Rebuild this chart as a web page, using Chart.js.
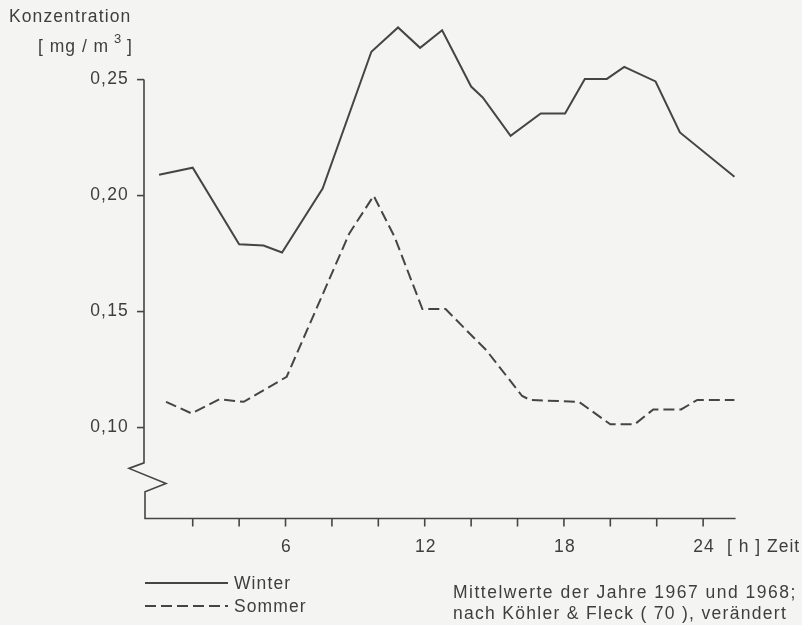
<!DOCTYPE html>
<html>
<head>
<meta charset="utf-8">
<script src="https://cdn.jsdelivr.net/npm/chart.js@4.4.1/dist/chart.umd.min.js"></script>
<style>
  html, body { margin: 0; background: #f4f4f2; }
  canvas { display: block; }
</style>
</head>
<body>
<canvas id="chart" width="802" height="625"></canvas>
<script>
// Tagesgang der Konzentration, Winter / Sommer (Stunde, mg/m³)
const winterHours  = [0.55, 2.0, 4.0, 5.05, 5.85, 7.6, 9.7, 10.85, 11.8, 12.75, 14.0, 14.5, 15.7, 17.0, 18.05, 18.9, 19.85, 20.6, 21.95, 23.0, 25.35];
const winterValues = [0.209, 0.212, 0.179, 0.1785, 0.1755, 0.203, 0.262, 0.2725, 0.2637, 0.2713, 0.247, 0.2423, 0.2258, 0.2354, 0.2354, 0.2503, 0.2503, 0.2555, 0.2492, 0.2272, 0.2081];

const summerHours  = [0.85, 1.95, 3.15, 4.2, 6.05, 8.75, 9.8, 10.7, 11.9, 12.9, 14.0, 14.65, 16.2, 16.55, 18.65, 20.0, 21.05, 21.85, 23.05, 23.75, 25.35];
const summerValues = [0.1111, 0.1061, 0.1122, 0.1111, 0.1219, 0.1837, 0.1999, 0.1822, 0.1511, 0.1511, 0.1399, 0.1334, 0.1136, 0.1119, 0.1111, 0.1014, 0.1014, 0.1078, 0.1078, 0.1119, 0.1119];

const yTickValues = [0.10, 0.15, 0.20, 0.25];
const yTickLabels = ['0,10', '0,15', '0,20', '0,25'];
const xTickValues = [2, 4, 6, 8, 10, 12, 14, 16, 18, 20, 22, 24];
const xLabelValues = [6, 12, 18, 24];
const xLabelTexts  = ['6', '12', '18', '24'];

const ink = '#454545';
const textInk = '#3e3e3e';
const paper = '#f4f4f2';
const family = '"Liberation Sans", Arial, Helvetica, sans-serif';

const toPoints = (xs, ys) => xs.map((h, i) => ({ x: h, y: ys[i] }));

function text(ctx, str, x, y, size, align = 'left', baseline = 'alphabetic', spacing = 1.1) {
  ctx.font = `${size}px ${family}`;
  ctx.letterSpacing = spacing + 'px';
  ctx.textAlign = align;
  ctx.textBaseline = baseline;
  ctx.fillStyle = textInk;
  ctx.fillText(str, x, y);
}

// axes with the broken y axis, tick labels, titles and legend
const axisDecor = {
  id: 'axisDecor',
  beforeDraw(chart) {
    const { ctx, width, height } = chart;
    ctx.save();
    ctx.fillStyle = paper;
    ctx.fillRect(0, 0, width, height);
    ctx.restore();
  },
  afterDraw(chart) {
    const { ctx, scales: { x, y } } = chart;
    const x0 = x.getPixelForValue(x.min);
    const yb = y.getPixelForValue(y.min);
    const xr = x.getPixelForValue(x.max);

    ctx.save();
    ctx.strokeStyle = ink;
    ctx.lineWidth = 1.6;
    ctx.lineJoin = 'miter';

    // y axis from 0,25 down, with the zigzag break, then the x axis
    ctx.beginPath();
    ctx.moveTo(x0, y.getPixelForValue(0.25));
    ctx.lineTo(x0, y.getPixelForValue(0.0848));
    ctx.lineTo(x0 - 15, y.getPixelForValue(0.0824));
    ctx.lineTo(x0 + 22, y.getPixelForValue(0.0759));
    ctx.lineTo(x0 + 1, y.getPixelForValue(0.0723));
    ctx.lineTo(x0 + 1, yb);
    ctx.lineTo(xr, yb);
    ctx.stroke();

    // y ticks and labels
    yTickValues.forEach((v, i) => {
      const py = y.getPixelForValue(v);
      ctx.beginPath();
      ctx.moveTo(x0 - 7, py);
      ctx.lineTo(x0, py);
      ctx.stroke();
      text(ctx, yTickLabels[i], x0 - 15, py, 17.5, 'right', 'middle', 1.2);
    });

    // x ticks and labels
    xTickValues.forEach(h => {
      const px = x.getPixelForValue(h);
      ctx.beginPath();
      ctx.moveTo(px, yb);
      ctx.lineTo(px, yb + 8);
      ctx.stroke();
    });
    xLabelValues.forEach((h, i) => {
      text(ctx, xLabelTexts[i], x.getPixelForValue(h) + 1, 552, 17.5, 'center');
    });
    text(ctx, '[ h ] Zeit', 727, 552, 17.5, 'left', 'alphabetic', 1.0);

    // y axis title
    text(ctx, 'Konzentration', 9, 22, 17.5);
    text(ctx, '[ mg / m', 38, 52, 17.5, 'left', 'alphabetic', 1.0);
    text(ctx, '3', 114, 43, 13, 'left', 'alphabetic', 0);
    text(ctx, ']', 127, 52, 17.5);

    // legend
    const sets = chart.data.datasets;
    [[583, 589], [606, 612]].forEach(([ly, ty], i) => {
      ctx.save();
      ctx.lineWidth = 2;
      ctx.setLineDash(sets[i].borderDash || []);
      ctx.beginPath();
      ctx.moveTo(145, ly);
      ctx.lineTo(228, ly);
      ctx.stroke();
      ctx.restore();
      text(ctx, sets[i].label, 234, ty, 17.5);
    });

    text(ctx, 'Mittelwerte der Jahre 1967 und 1968;', 453, 598, 17.5, 'left', 'alphabetic', 1.5);
    text(ctx, 'nach Köhler & Fleck ( 70 ), verändert', 453, 619, 17.5, 'left', 'alphabetic', 1.3);

    ctx.restore();
  }
};

new Chart(document.getElementById('chart'), {
  type: 'line',
  data: {
    datasets: [
      {
        label: 'Winter',
        data: toPoints(winterHours, winterValues),
        borderColor: ink,
        borderWidth: 2,
        pointRadius: 0,
        tension: 0,
        fill: false,
      },
      {
        label: 'Sommer',
        data: toPoints(summerHours, summerValues),
        borderColor: ink,
        borderWidth: 2,
        borderDash: [11, 5],
        pointRadius: 0,
        tension: 0,
        fill: false,
      },
    ],
  },
  options: {
    responsive: false,
    animation: false,
    layout: { padding: { left: 144, right: 66.4, top: 10, bottom: 106.5 } },
    plugins: { legend: { display: false }, tooltip: { enabled: false } },
    scales: {
      x: { type: 'linear', min: -0.1, max: 25.4, display: false },
      y: { type: 'linear', min: 0.0608, max: 0.28, display: false },
    },
  },
  plugins: [axisDecor],
});
</script>
</body>
</html>
